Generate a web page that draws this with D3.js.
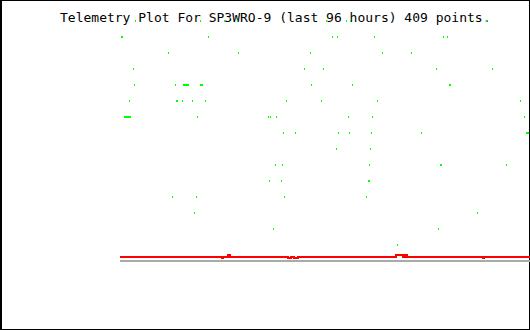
<!DOCTYPE html>
<html>
<head>
<meta charset="utf-8">
<script src="https://cdn.jsdelivr.net/npm/d3@7"></script>
<style>
html,body{margin:0;padding:0;background:#fff;}
svg{display:block;}
</style>
</head>
<body>
<script>
// ---- data ----
const titleText = "Telemetry Plot For SP3WRO-9 (last 96 hours) 409 points.";
// time slot (0..410 across 96 hours) and value level of green telemetry samples
const greenT = [
  15,80,104,117,206,226,230,353,366,
  1,2,88,212,217,254,323,327,
  48,118,190,262,291,
  13,184,203,316,372,
  14,55,63,64,65,66,67,68,80,81,82,191,232,329,330,
  9,56,57,62,72,85,166,201,257,400,
  4,5,6,7,8,9,10,77,148,150,156,228,252,404,
  163,175,218,229,251,301,406,407,408,
  216,250,
  155,162,249,320,321,386,
  149,161,248,249,
  52,76,164,246,
  74,357,
  153,318,
  277
];
const greenV = [
  17,17,17,17,17,17,17,17,17,
  16,16,16,16,16,16,16,16,
  15,15,15,15,15,
  14,14,14,14,14,
  13,13,13,13,13,13,13,13,13,13,13,13,13,13,13,
  12,12,12,12,12,12,12,12,12,12,
  11,11,11,11,11,11,11,11,11,11,11,11,11,11,
  10,10,10,10,10,10,10,10,10,
  9,9,
  8,8,8,8,8,8,
  7,7,7,7,
  6,6,6,6,
  5,5,
  4,4,
  3
];
const redT = [0,102,103,108,110,168,171,174,178,276,283,285,287,363,364,410];
const redV = [2.25,2.19,2.25,2.375,2.25,2.19,2.25,2.19,2.25,2.375,2.25,2.375,2.25,2.19,2.25,2.25];
const grayT = [0,410];
const grayV = [2.0,2.0];

// ---- chart ----
const W = 530, H = 330;
const svg = d3.select("body").append("svg").attr("width", W).attr("height", H);

const x = d3.scaleLinear().domain([0, 410]).range([120, 530]);
const y = d3.scaleLinear().domain([0, 17]).range([293, 21]);

// border
svg.append("rect").attr("x",0).attr("y",0).attr("width",W).attr("height",1).attr("fill","#000");
svg.append("rect").attr("x",0).attr("y",0).attr("width",2).attr("height",H).attr("fill","#000");
svg.append("rect").attr("x",W-1).attr("y",0).attr("width",1).attr("height",H).attr("fill","#000");
svg.append("rect").attr("x",0).attr("y",H-1).attr("width",W).attr("height",1).attr("fill","#000");

// title
svg.append("text")
  .attr("x", 60).attr("y", 22)
  .attr("font-family", "'DejaVu Sans Mono', 'Liberation Mono', monospace")
  .attr("font-size", 13)
  .attr("fill", "#000")
  .text(titleText);

// gray series
const line = d3.line().x((d,i,a)=>x(d[0])).y(d=>y(d[1])).curve(d3.curveStepAfter);
svg.append("path")
  .datum(grayT.map((t,i)=>[t, grayV[i]]))
  .attr("d", line)
  .attr("fill","none").attr("stroke","#aaaaaa").attr("stroke-width",2)
  .attr("shape-rendering","crispEdges");

// red series
svg.append("path")
  .datum(redT.map((t,i)=>[t, redV[i]]))
  .attr("d", line)
  .attr("fill","none").attr("stroke","#ff0000").attr("stroke-width",2)
  .attr("shape-rendering","crispEdges");

// green samples
svg.append("g").selectAll("rect")
  .data(greenT.map((t,i)=>({t, v: greenV[i]})))
  .join("rect")
  .attr("x", d => Math.round(x(d.t)))
  .attr("y", d => Math.round(y(d.v)) - 1)
  .attr("width", 1).attr("height", 2)
  .attr("fill", "#00ff00")
  .attr("shape-rendering","crispEdges");
</script>
</body>
</html>
